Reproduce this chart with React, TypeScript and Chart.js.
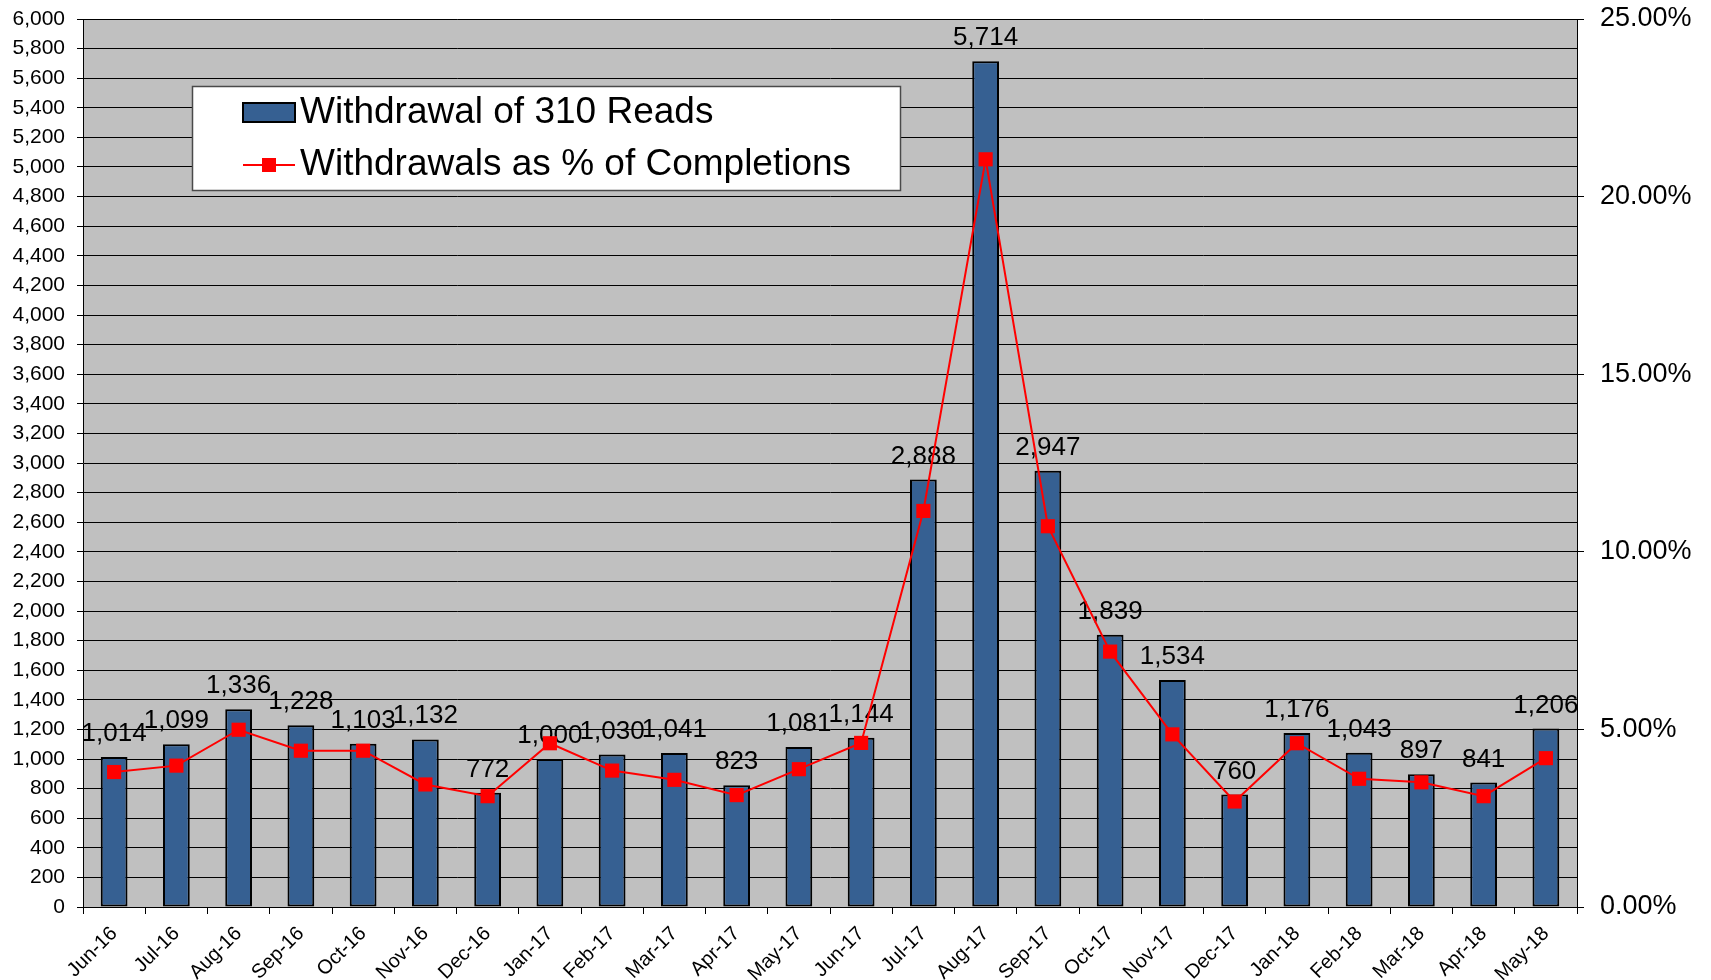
import React, { useEffect, useRef } from "react";
import { Chart, registerables } from "chart.js";

Chart.register(...registerables);

const categories = [
  "Jun-16", "Jul-16", "Aug-16", "Sep-16", "Oct-16", "Nov-16", "Dec-16", "Jan-17",
  "Feb-17", "Mar-17", "Apr-17", "May-17", "Jun-17", "Jul-17", "Aug-17", "Sep-17",
  "Oct-17", "Nov-17", "Dec-17", "Jan-18", "Feb-18", "Mar-18", "Apr-18", "May-18",
];

const withdrawals = [
  1014, 1099, 1336, 1228, 1103, 1132, 772, 1000,
  1030, 1041, 823, 1081, 1144, 2888, 5714, 2947,
  1839, 1534, 760, 1176, 1043, 897, 841, 1206,
];

const withdrawalPct = [
  3.8, 3.98, 4.99, 4.4, 4.4, 3.45, 3.12, 4.61,
  3.84, 3.58, 3.15, 3.88, 4.62, 11.15, 21.05, 10.72,
  7.19, 4.86, 2.97, 4.61, 3.61, 3.51, 3.12, 4.19,
];

const barLabel = "Withdrawal of 310 Reads";
const lineLabel = "Withdrawals as % of Completions";

const FONT = "'Liberation Sans', Arial, sans-serif";
const BAR_COLOR = "#366092";
const PLOT_BG = "#C0C0C0";

const plotBgPlugin = {
  id: "plotBg",
  beforeDraw(chart: any) {
    const { ctx, chartArea } = chart;
    ctx.save();
    ctx.fillStyle = PLOT_BG;
    ctx.fillRect(chartArea.left, chartArea.top, chartArea.right - chartArea.left, chartArea.bottom - chartArea.top);
    ctx.restore();
  },
};

const barLabelPlugin = {
  id: "barLabels",
  afterDatasetDraw(chart: any, args: any) {
    if (args.index !== 0) return;
    const { ctx } = chart;
    const meta = chart.getDatasetMeta(0);
    ctx.save();
    ctx.font = `26px ${FONT}`;
    ctx.fillStyle = "#000";
    ctx.textAlign = "center";
    ctx.textBaseline = "alphabetic";
    meta.data.forEach((el: any, i: number) => {
      const v = withdrawals[i];
      ctx.fillText(v.toLocaleString("en-US"), el.x, el.y - 16);
    });
    ctx.restore();
  },
};

const legendPlugin = {
  id: "boxLegend",
  afterDraw(chart: any) {
    const { ctx } = chart;
    const x0 = 192, y0 = 86, x1 = 900, y1 = 190;
    ctx.save();
    ctx.fillStyle = "#fff";
    ctx.fillRect(x0, y0, x1 - x0, y1 - y0);
    ctx.strokeStyle = "#4a4a4a";
    ctx.lineWidth = 1.5;
    ctx.strokeRect(x0 + 0.5, y0 + 0.5, x1 - x0, y1 - y0);
    // row 1
    ctx.fillStyle = BAR_COLOR;
    ctx.fillRect(243, 103, 52, 19);
    ctx.strokeStyle = "#000";
    ctx.lineWidth = 2;
    ctx.strokeRect(243, 103, 52, 19);
    ctx.fillStyle = "#000";
    ctx.font = `37px ${FONT}`;
    ctx.textAlign = "left";
    ctx.textBaseline = "middle";
    ctx.fillText(barLabel, 300, 113);
    // row 2
    ctx.strokeStyle = "#ff0000";
    ctx.lineWidth = 2;
    ctx.beginPath();
    ctx.moveTo(243, 165);
    ctx.lineTo(295, 165);
    ctx.stroke();
    ctx.fillStyle = "#ff0000";
    ctx.fillRect(269 - 7, 165 - 7, 14, 14);
    ctx.fillStyle = "#000";
    ctx.fillText(lineLabel, 300, 165);
    ctx.restore();
  },
};

export default function App() {
  const ref = useRef<HTMLCanvasElement | null>(null);

  useEffect(() => {
    document.body.style.margin = "0";
    const canvas = ref.current;
    if (!canvas) return;
    const chart = new Chart(canvas, {
      type: "bar",
      data: {
        labels: categories,
        datasets: [
          {
            type: "bar",
            label: barLabel,
            data: withdrawals,
            backgroundColor: BAR_COLOR,
            borderColor: "#000",
            borderWidth: 2,
            borderSkipped: false,
            barPercentage: 0.43,
            categoryPercentage: 1,
            yAxisID: "y",
            order: 1,
          } as any,
          {
            type: "line",
            label: lineLabel,
            data: withdrawalPct,
            borderColor: "#ff0000",
            borderWidth: 2,
            backgroundColor: "#ff0000",
            pointStyle: "rect",
            pointRadius: 10,
            pointBorderWidth: 0,
            pointBackgroundColor: "#ff0000",
            tension: 0,
            yAxisID: "y1",
            order: 0,
          } as any,
        ],
      },
      options: {
        responsive: false,
        animation: false,
        layout: { padding: { top: 19, left: 0, right: 0, bottom: 0 } },
        plugins: {
          legend: { display: false },
          tooltip: { enabled: false },
        },
        scales: {
          x: {
            type: "category",
            offset: true,
            grid: {
              offset: true,
              drawOnChartArea: false,
              tickLength: 7,
              color: "#000",
            },
            border: { color: "#000", width: 1 },
            ticks: {
              autoSkip: false,
              maxRotation: 45,
              minRotation: 45,
              color: "#000",
              padding: 8,
              font: { family: FONT, size: 20 },
            },
            afterFit: (scale: any) => {
              scale.height = 73;
              scale.paddingLeft = 0;
              scale.paddingRight = 0;
            },
          },
          y: {
            position: "left",
            min: 0,
            max: 6000,
            ticks: {
              stepSize: 200,
              color: "#000",
              padding: 12,
              font: { family: FONT, size: 21 },
              callback: (v: any) => Number(v).toLocaleString("en-US"),
            },
            grid: { color: "#000", lineWidth: 1, tickLength: 6 },
            border: { color: "#000", width: 1 },
            afterFit: (scale: any) => {
              scale.width = 83;
              scale.paddingTop = 0;
              scale.paddingBottom = 0;
            },
          },
          y1: {
            position: "right",
            min: 0,
            max: 25,
            ticks: {
              stepSize: 5,
              color: "#000",
              padding: 16,
              font: { family: FONT, size: 27 },
              callback: (v: any) => `${Number(v).toFixed(2)}%`,
            },
            grid: { drawOnChartArea: false, color: "#000", tickLength: 7 },
            border: { color: "#000", width: 1 },
            afterFit: (scale: any) => {
              scale.width = 134;
              scale.paddingTop = 0;
              scale.paddingBottom = 0;
            },
          },
        },
      } as any,
      plugins: [plotBgPlugin, barLabelPlugin, legendPlugin],
    });
    return () => chart.destroy();
  }, []);

  return (
    <div style={{ width: 1711, height: 980, position: "relative" }}>
      <canvas ref={ref} width={1711} height={980} style={{ display: "block" }} />
    </div>
  );
}
